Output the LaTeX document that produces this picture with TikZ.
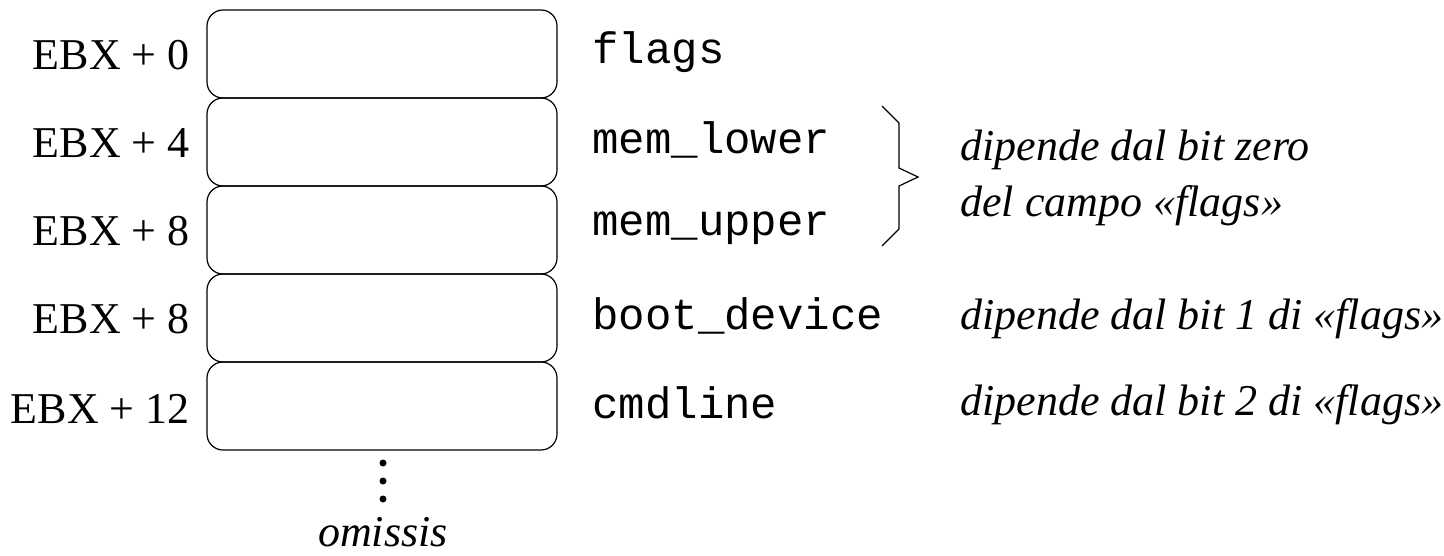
\documentclass[tikz,border=0pt]{standalone}
\usepackage{fontspec}
\setmainfont{Liberation Serif}
\setmonofont{Liberation Mono}
\begin{document}
\begin{tikzpicture}[x=0.5pt,y=-0.5pt,
  cell/.style={draw,rounded corners=8pt,minimum width=175pt,minimum height=44pt,inner sep=0pt,line width=0.6pt},
  addr/.style={anchor=east,inner sep=0pt,font=\fontsize{22}{26}\selectfont},
  field/.style={anchor=west,inner sep=0pt,font=\fontsize{22}{26}\selectfont\ttfamily},
  note/.style={anchor=west,inner sep=0pt,font=\fontsize{22}{26}\selectfont\itshape},
  dot/.style={circle,fill,inner sep=0pt,minimum size=3.5pt}]
\useasboundingbox (0,0) rectangle (1444,556);
\node[cell] (b1) at (382,54) {};
\node[cell] (b2) at (382,142) {};
\node[cell] (b3) at (382,230) {};
\node[cell] (b4) at (382,318) {};
\node[cell] (b5) at (382,406) {};
\node[addr] (a1) at (190,55) {EBX + 0};
\node[addr] (a2) at (190,143) {EBX + 4};
\node[addr] (a3) at (190,231) {EBX + 8};
\node[addr] (a4) at (190,319) {EBX + 8};
\node[addr] (a5) at (190,409) {EBX + 12};
\node[field] (f1) at (592,52) {flags};
\node[field] (f2) at (592,140) {mem\_lower};
\node[field] (f3) at (592,228) {mem\_upper};
\node[field] (f4) at (592,316) {boot\_device};
\node[field] (f5) at (592,403) {cmdline};
\coordinate (bt) at (882,106);
\coordinate (bb) at (882,246);
\draw[line width=0.6pt] (bt) -- (899,123) -- (899,168) -- (918,177) -- (899,186) -- (899,229) -- (bb);
\node[note] (n1) at (960,150) {dipende dal bit zero};
\node[note] (n2) at (960,206) {del campo «flags»};
\node[note] (n3) at (960,319) {dipende dal bit 1 di «flags»};
\node[note] (n4) at (960,405) {dipende dal bit 2 di «flags»};
\node[dot] (d1) at (383,463) {};
\node[dot] (d2) at (383,481) {};
\node[dot] (d3) at (383,499) {};
\node[inner sep=0pt,anchor=base,font=\fontsize{22}{26}\selectfont\itshape] (om) at (383,546) {omissis};
\end{tikzpicture}
\end{document}
